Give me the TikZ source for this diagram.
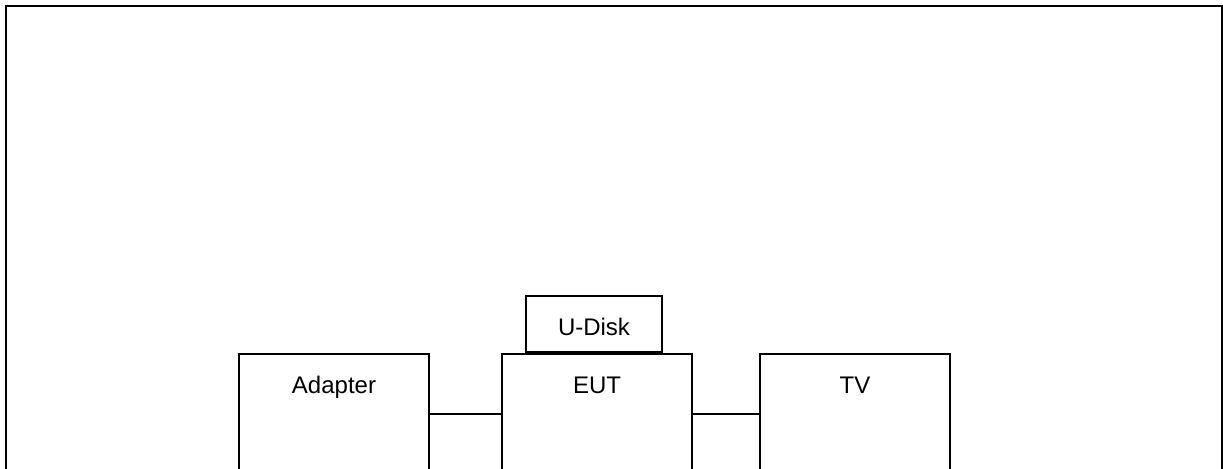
\documentclass[tikz,border=0pt]{standalone}
\usepackage{fontspec}
\setmainfont{Liberation Sans}
\usetikzlibrary{positioning}
\tikzset{
    unit/.style={rectangle, draw, line width=1pt, align=center, inner xsep=0pt, inner ysep=0pt,
        minimum width=95pt, text height=20pt, text depth=70pt, font=\fontsize{12}{14}\selectfont},
    plug/.style={rectangle, draw, line width=1pt, align=center, inner xsep=0pt, inner ysep=0pt,
        minimum width=68pt, text height=20pt, text depth=8pt, font=\fontsize{12}{14}\selectfont},
    wire/.style={line width=1pt}
}

\begin{document}
\begin{tikzpicture}[x=0.5pt, y=-0.5pt, node distance=36pt]
            \useasboundingbox (0,0) rectangle (1223,469);
            \draw[line width=1pt] (6,6) rectangle (1222,520);

            \node[unit, anchor=north west] (adapter) at (238,353) {Adapter};
            \node[unit, right=35.5pt of adapter] (eut) {EUT};
            \node[unit, right=33pt of eut] (tv) {TV};
            \node[plug, above=0pt of eut, xshift=-1.5pt] (udisk) {U-Disk};

            \draw[wire] ([yshift=-30.5pt]adapter.north east) -- ([yshift=-30.5pt]eut.north west);
            \draw[wire] ([yshift=-30.5pt]eut.north east) -- ([yshift=-30.5pt]tv.north west);
        \end{tikzpicture}
\end{document}
